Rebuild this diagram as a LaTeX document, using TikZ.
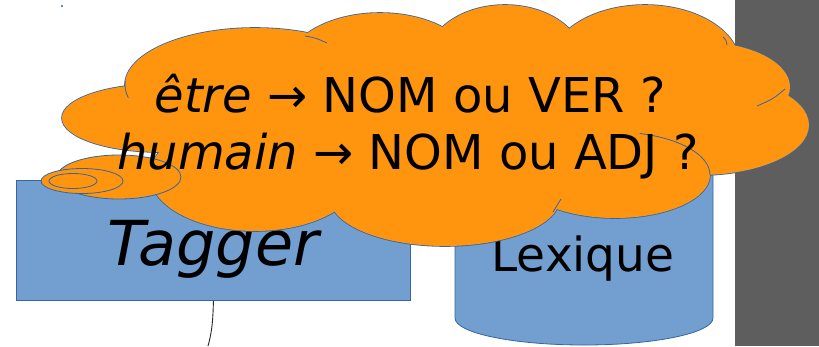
\documentclass[tikz,border=0pt]{standalone}
\usepackage{fontspec}
\setmainfont{DejaVu Sans}
\definecolor{lobeorange}{HTML}{FF950E}
\definecolor{shapeblue}{HTML}{729FCF}
\definecolor{edgeblue}{HTML}{3465A4}
\definecolor{sidegray}{HTML}{5E5E5E}
\tikzset{
  outline/.style={draw=edgeblue, line width=0.8pt},
  bubble/.style={fill=lobeorange, outline},
  bigtext/.style={inner sep=0pt, anchor=base, text=black},
}
\begin{document}
\begin{tikzpicture}[x=1pt, y=-1pt]
\useasboundingbox (0,0) rectangle (819,346);

% grey side panel
\fill[sidegray] (735,0) rectangle (819,346);

% stray point
\fill[edgeblue] (62,6) circle[radius=1.2];

% tagger box and its lead
\node[fill=shapeblue, outline, minimum width=394pt, minimum height=120pt,
      inner sep=0pt, anchor=north west] (tagger) at (16,180) {};
\coordinate (leadend) at (208,346);
\draw[black!85, line width=0.9pt] (tagger.south) .. controls (213,325) and (211,335) .. (leadend);
\node[bigtext, font=\fontsize{62}{70}\selectfont\itshape] (taggerlabel) at (213,265) {Tagger};

% lexicon cylinder
\path[fill=shapeblue, outline] (455,160) -- (455,318)
  arc[start angle=180, end angle=0, x radius=129, y radius=27]
  -- (713,160)
  arc[start angle=0, end angle=-180, x radius=129, y radius=27] -- cycle;
\node[bigtext, font=\fontsize{47}{52}\selectfont] (lexlabel) at (583,271) {Lexique};

% cloud: outline of the union first, then the fill over it
\def\lobes{160/118/98/34, 255/85/130/57, 380/70/95/57, 505/60/78/55,
  645/65/95/60, 700/87/90/45, 700/125/109/50, 615/175/95/43,
  445/198/115/48, 255/175/105/56, 420/125/270/75}
\foreach \cx/\cy/\rx/\ry in \lobes
  \draw[edgeblue, line width=1.6pt] (\cx,\cy) ellipse[x radius=\rx, y radius=\ry];
\foreach \cx/\cy/\rx/\ry in \lobes
  \fill[lobeorange] (\cx,\cy) ellipse[x radius=\rx, y radius=\ry];

% inner creases where the lobes meet
\draw[outline] ([shift={(-75:95 and 43)}]615,175)
  arc[start angle=-75, end angle=0, x radius=95, y radius=43];
\draw[outline] ([shift={(184:130 and 57)}]255,85)
  arc[start angle=184, end angle=167, x radius=130, y radius=57];
\draw[outline] (785,89) .. controls (773,99) .. (757,106);
\draw[outline] (553,212) .. controls (557,206) .. (561,199);
\draw[outline] (305,36) .. controls (316,38) .. (327,43);
\draw[outline] (723,37) .. controls (726,40) .. (727,45);

% thought bubbles
\path[bubble] (119,177) ellipse[x radius=62, y radius=22];
\path[bubble] (82,181) ellipse[x radius=41, y radius=12.5];
\path[bubble] (73,181) ellipse[x radius=24, y radius=7.5];

% questions
\node[bigtext, font=\fontsize{48}{57}\selectfont] (qone) at (410,112)
  {\textit{être} → NOM ou VER ?};
\node[bigtext, font=\fontsize{48}{57}\selectfont] (qtwo) at (408,169)
  {\textit{humain} → NOM ou ADJ ?};
\end{tikzpicture}
\end{document}
